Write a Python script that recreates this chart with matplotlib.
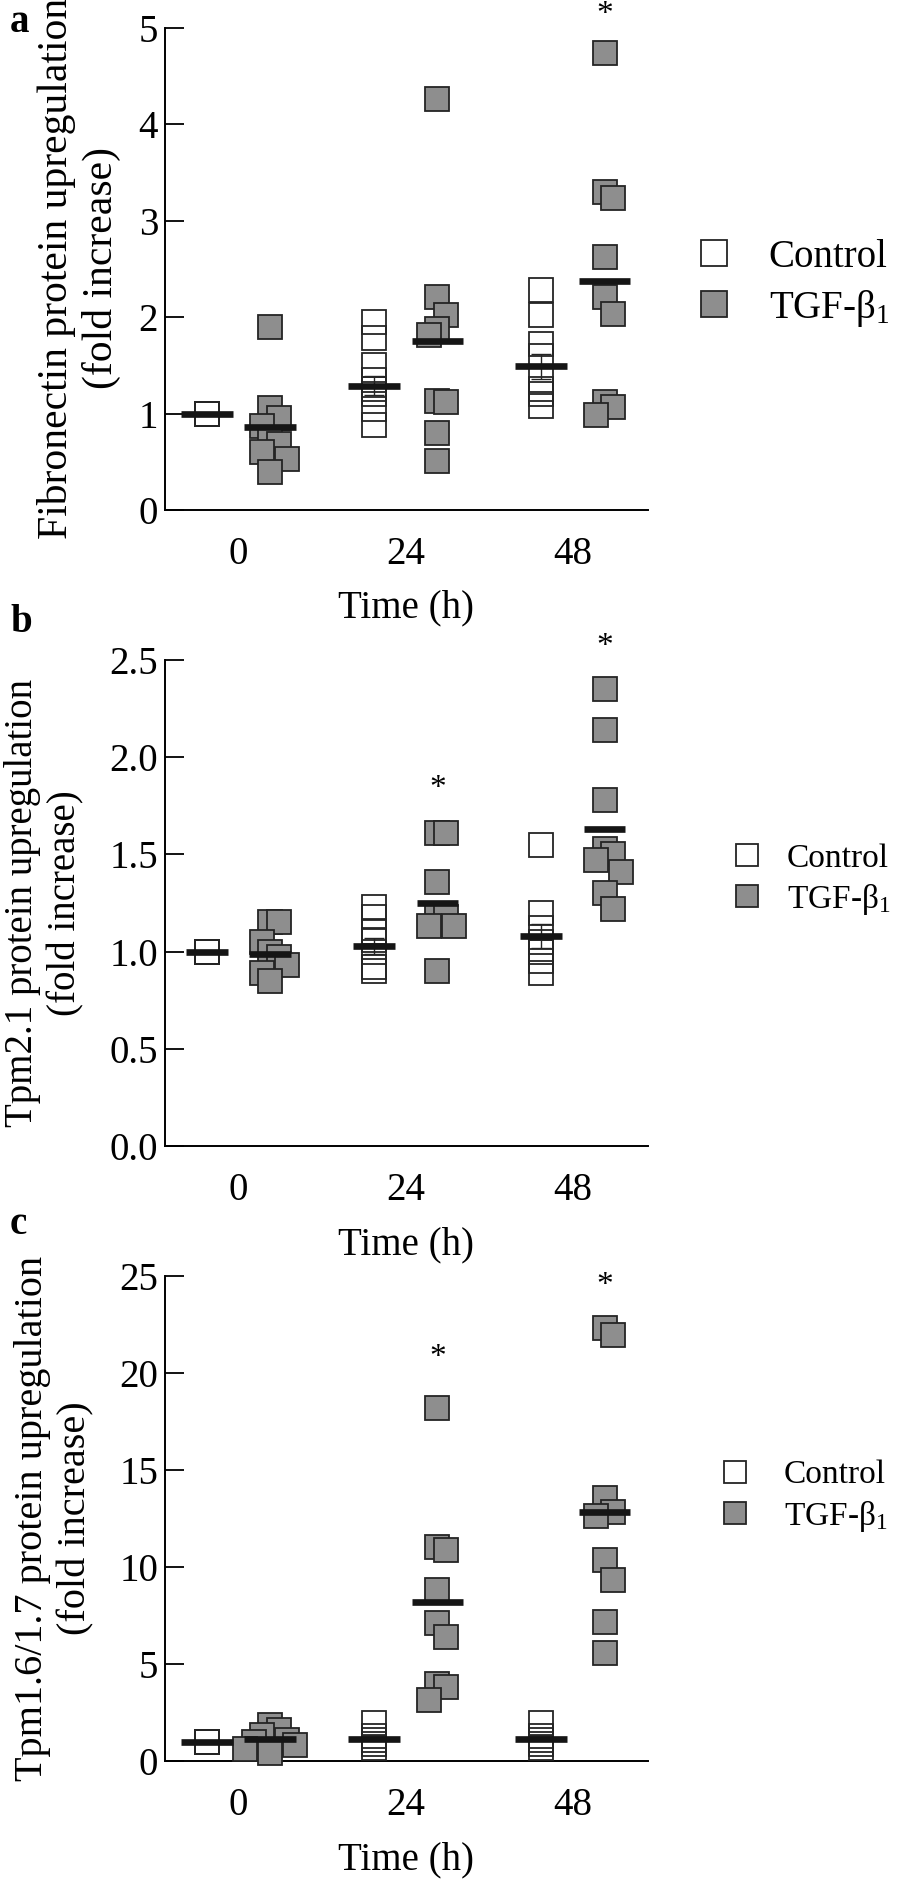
import numpy as np
import matplotlib
matplotlib.use("Agg")
import matplotlib.pyplot as plt
from matplotlib.lines import Line2D

plt.rcParams['font.family'] = ['Liberation Serif', 'DejaVu Serif']
plt.rcParams['mathtext.fontset'] = 'custom'
plt.rcParams['mathtext.rm'] = 'Liberation Serif'
plt.rcParams['mathtext.default'] = 'regular'

times = ['0', '24', '48']

# a: fibronectin
fn_ctrl = [[1.0] * 6,
           [1.95, 1.78, 1.50, 1.35, 1.25, 1.20, 1.05, 0.88],
           [2.28, 2.02, 1.72, 1.60, 1.35, 1.25, 1.20, 1.08]]
fn_tgf = [[1.90, 1.06, 0.95, 0.87, 0.75, 0.68, 0.60, 0.53, 0.39],
          [4.26, 2.21, 2.02, 1.88, 1.81, 1.13, 1.12, 0.80, 0.51],
          [4.74, 3.30, 3.23, 2.62, 2.21, 2.03, 1.12, 1.07, 0.99]]
fn_ctrl_mean = [1.0, 1.29, 1.49]
fn_ctrl_sem = [0.0, 0.10, 0.13]
fn_tgf_mean = [0.86, 1.75, 2.37]
fn_star = [None, None, 5.13]

# b: Tpm2.1
t21_ctrl = [[1.0] * 6,
            [1.23, 1.18, 1.10, 1.06, 1.00, 0.92, 0.90],
            [1.55, 1.20, 1.12, 1.05, 1.00, 0.95, 0.89]]
t21_tgf = [[1.15, 1.15, 1.05, 1.00, 0.97, 0.93, 0.89, 0.85],
           [1.61, 1.61, 1.36, 1.19, 1.18, 1.13, 1.13, 0.90],
           [2.35, 2.14, 1.78, 1.53, 1.50, 1.47, 1.41, 1.30, 1.22]]
t21_ctrl_mean = [1.0, 1.03, 1.08]
t21_ctrl_sem = [0.0, 0.04, 0.06]
t21_tgf_mean = [0.99, 1.25, 1.63]
t21_star = [None, 1.84, 2.57]

# c: Tpm1.6/1.7
t16_ctrl = [[1.0] * 6,
            [1.95, 1.30, 1.10, 0.90, 0.65],
            [1.95, 1.30, 1.10, 0.90, 0.65]]
t16_tgf = [[1.87, 1.60, 1.35, 1.10, 1.00, 0.80, 0.60, 0.39],
           [18.19, 11.03, 10.90, 8.83, 7.13, 6.41, 3.95, 3.79, 3.16],
           [22.30, 21.97, 13.55, 12.85, 12.62, 10.36, 9.33, 7.18, 5.55]]
t16_ctrl_mean = [1.0, 1.12, 1.11]
t16_ctrl_sem = [0.0, 0.0, 0.0]
t16_tgf_mean = [1.13, 8.19, 12.85]
t16_star = [None, 20.8, 24.5]

GREY = '#8e8e8e'
EDGE = '#242424'


def spread(vals, step, dx):
    # small sideways shift for squares that would sit on top of each other
    offs = []
    for i, v in enumerate(vals):
        near = [offs[j] for j in range(i) if abs(vals[j] - v) < step]
        o, k = 0.0, 1
        while any(abs(o - n) < 1e-9 for n in near) and k < 8:
            o = dx * ((k + 1) // 2) * (1 if k % 2 else -1)
            k += 1
        offs.append(o)
    return offs


def panel(ax, ctrl, tgf, cmean, csem, tmean, star, ymax, ystep, fmt, bar_hw):
    g = np.arange(3)
    xc, xt = g - 0.19, g + 0.19
    step = 0.26 * ymax / 5.0
    for i in range(3):
        ax.plot([xc[i]] * len(ctrl[i]), ctrl[i], ls='none', marker='s', ms=17.5,
                mfc='none', mec=EDGE, mew=1.3, zorder=3, clip_on=False)
        offs = spread(tgf[i], step, 0.05)
        ax.plot(xt[i] + np.array(offs), tgf[i], ls='none', marker='s', ms=17.5,
                mfc=GREY, mec=EDGE, mew=1.3, zorder=3, clip_on=False)
        if star[i] is not None:
            ax.text(xt[i], star[i], '*', ha='center', va='center', fontsize=24,
                    clip_on=False)
    ax.errorbar(xc, cmean, yerr=csem, fmt='none', ecolor=EDGE, elinewidth=1.0,
                capsize=7, capthick=1.0, zorder=4)
    ax.hlines(cmean, xc - bar_hw, xc + bar_hw, color='#151515', lw=4.8, zorder=5)
    ax.hlines(tmean, xt - bar_hw, xt + bar_hw, color='#151515', lw=4.8, zorder=5)

    ax.set_xlim(-0.44, 2.45)
    ax.set_ylim(0, ymax)
    ax.set_xticks(g)
    ax.set_xticklabels(times)
    ticks = np.arange(0, ymax + ystep / 2, ystep)
    ax.set_yticks(ticks)
    ax.set_yticklabels([fmt % t for t in ticks])
    ax.tick_params(axis='y', direction='in', length=13.5, width=1.3, pad=5,
                   labelsize=28)
    ax.tick_params(axis='x', length=0, pad=19, labelsize=28)
    for s in ['top', 'right']:
        ax.spines[s].set_visible(False)
    for s in ['left', 'bottom']:
        ax.spines[s].set_linewidth(1.4)
    ax.text(0.5, -0.203, 'Time (h)', transform=ax.transAxes, ha='center',
            va='center', fontsize=28)


def add_legend(ax, bx, by, size, fs, pad, spacing):
    h = [Line2D([], [], ls='none', marker='s', ms=size, mfc='white', mec=EDGE, mew=1.3),
         Line2D([], [], ls='none', marker='s', ms=size, mfc=GREY, mec=EDGE, mew=1.3)]
    ax.legend(h, ['Control', 'TGF-β$_1$'], loc='center left', bbox_to_anchor=(bx, by),
              frameon=False, borderpad=0, borderaxespad=0, handlelength=1.0,
              handletextpad=pad, labelspacing=spacing, fontsize=fs)


fig = plt.figure(figsize=(9.04, 18.8), dpi=100)
W, H = 904.0, 1880.0
left, right = 165, 648

ax_a = fig.add_axes([left / W, 1 - 510 / H, (right - left) / W, (510 - 27.7) / H])
ax_b = fig.add_axes([left / W, 1 - 1146 / H, (right - left) / W, (1146 - 660) / H])
ax_c = fig.add_axes([left / W, 1 - 1761 / H, (right - left) / W, (1761 - 1276) / H])

panel(ax_a, fn_ctrl, fn_tgf, fn_ctrl_mean, fn_ctrl_sem, fn_tgf_mean, fn_star, 5, 1, '%d', 0.155)
panel(ax_b, t21_ctrl, t21_tgf, t21_ctrl_mean, t21_ctrl_sem, t21_tgf_mean, t21_star, 2.5, 0.5, '%.1f', 0.125)
panel(ax_c, t16_ctrl, t16_tgf, t16_ctrl_mean, t16_ctrl_sem, t16_tgf_mean, t16_star, 25, 5, '%d', 0.155)

add_legend(ax_a, 1.097, 0.469, 18.5, 28, 0.9, 0.3)
add_legend(ax_b, 1.17, 0.547, 16, 24, 0.7, 0.25)
add_legend(ax_c, 1.146, 0.545, 16, 24, 0.95, 0.25)

ylab = [('Fibronectin protein upregulation\n(fold increase)', 79, 268, 30),
        ('Tpm2.1 protein upregulation\n(fold increase)', 44, 903, 28),
        ('Tpm1.6/1.7 protein upregulation\n(fold increase)', 54, 1518, 29)]
for txt, x, y, fs in ylab:
    fig.text(x / W, 1 - y / H, txt, rotation=90, ha='center', va='center',
             ma='center', fontsize=fs, linespacing=1.22)

for lab, y in [('a', 22), ('b', 623), ('c', 1224)]:
    fig.text(10 / W, 1 - y / H, lab, ha='left', va='center', fontsize=28,
             fontweight='bold')

fig.savefig('out.png', dpi=100)
